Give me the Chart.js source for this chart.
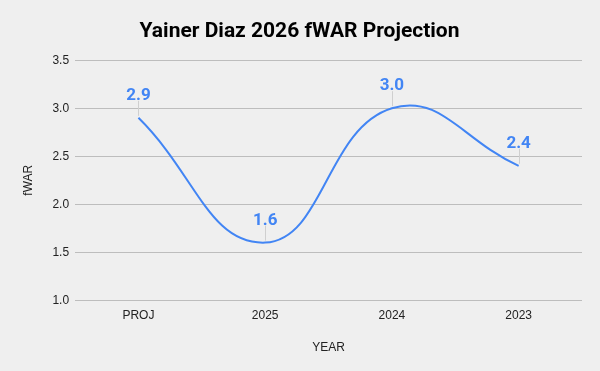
<!DOCTYPE html>
<html>
<head>
<meta charset="utf-8">
<script src="https://cdn.jsdelivr.net/npm/chart.js@4"></script>
<style>
  html, body { margin: 0; padding: 0; background: #efefef; }
  #wrap { width: 600px; height: 371px; }
</style>
</head>
<body>
<div id="wrap"><canvas id="chart" width="600" height="371"></canvas></div>
<script>
// chart data
const years = ['PROJ', '2025', '2024', '2023'];
const fwar = [2.9, 1.6, 3.0, 2.4];
const yTicks = [1.0, 1.5, 2.0, 2.5, 3.0, 3.5];

const blue = '#4285f4';

// value labels with a small grey leader line above each point
const pointLabels = {
    id: 'pointLabels',
    afterDatasetsDraw(chart) {
        const ctx = chart.ctx;
        const meta = chart.getDatasetMeta(0);
        ctx.save();
        meta.data.forEach((pt, i) => {
            ctx.strokeStyle = '#cfcfcf';
            ctx.lineWidth = 1;
            ctx.beginPath();
            ctx.moveTo(Math.round(pt.x) + 0.5, pt.y - 2);
            ctx.lineTo(Math.round(pt.x) + 0.5, pt.y - 17);
            ctx.stroke();
            ctx.fillStyle = blue;
            ctx.font = 'bold 17px Roboto';
            ctx.textAlign = 'center';
            ctx.textBaseline = 'alphabetic';
            ctx.fillText(fwar[i].toFixed(1), pt.x, pt.y - 18);
        });
        ctx.restore();
    }
};

new Chart(document.getElementById('chart'), {
    type: 'line',
    data: {
        labels: years,
        datasets: [{
            data: fwar,
            borderColor: blue,
            borderWidth: 2,
            tension: 0.45,
            pointRadius: 0,
            fill: false
        }]
    },
    options: {
        responsive: false,
        animation: false,
        layout: { padding: { left: 17, right: 18, top: 0, bottom: 12 } },
        plugins: {
            legend: { display: false },
            tooltip: { enabled: false },
            title: {
                display: true,
                text: 'Yainer Diaz 2026 fWAR Projection',
                color: '#000',
                font: { family: 'Roboto', size: 21, weight: 'bold' },
                padding: { top: 19, bottom: 16 }
            }
        },
        scales: {
            x: {
                offset: true,
                grid: { display: false },
                border: { display: false },
                ticks: { color: '#222', font: { family: 'Arial', size: 12 }, padding: 0 },
                title: {
                    display: true,
                    text: 'YEAR',
                    color: '#222',
                    font: { family: 'Arial', size: 12 },
                    padding: { top: 18 }
                }
            },
            y: {
                min: 1.0,
                max: 3.5,
                afterBuildTicks(axis) {
                    axis.ticks = yTicks.map(v => ({ value: v }));
                },
                grid: { color: '#bdbdbd', drawTicks: true, tickLength: 4, tickColor: 'rgba(0,0,0,0)' },
                border: { display: false },
                ticks: {
                    color: '#222',
                    font: { family: 'Arial', size: 12 },
                    padding: 2,
                    callback: v => v.toFixed(1)
                },
                title: {
                    display: true,
                    text: 'fWAR',
                    color: '#222',
                    font: { family: 'Arial', size: 12 },
                    padding: { bottom: 15 }
                }
            }
        }
    },
    plugins: [pointLabels, {
        id: 'bg',
        beforeDraw(chart) {
            const ctx = chart.ctx;
            ctx.save();
            ctx.fillStyle = '#efefef';
            ctx.fillRect(0, 0, chart.width, chart.height);
            ctx.restore();
        }
    }]
});
</script>
</body>
</html>
